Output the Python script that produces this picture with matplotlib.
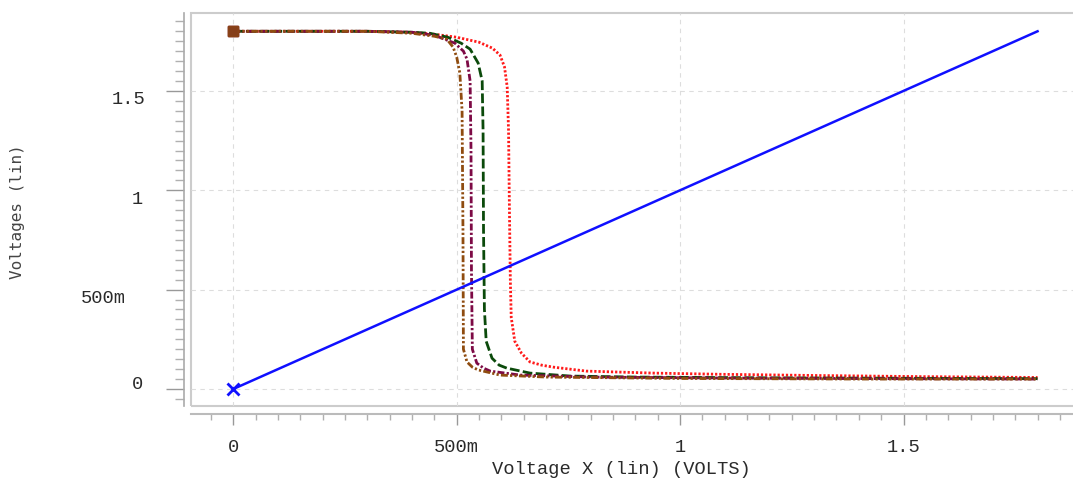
import matplotlib.pyplot as plt
from matplotlib.patches import Rectangle
from matplotlib.ticker import MultipleLocator, FixedLocator
from matplotlib.transforms import blended_transform_factory, ScaledTranslation

# input ramp (blue) and the four inverter transfer curves, in volts
ramp_x = [0.0, 1.8]
ramp_y = [0.0, 1.8]

red_x = [0.0, 0.30, 0.40, 0.45, 0.50, 0.55, 0.58, 0.597, 0.607, 0.613, 0.616, 0.618, 0.620,
         0.622, 0.630, 0.645, 0.664, 0.690, 0.716, 0.790, 0.940, 1.09, 1.30, 1.55, 1.80]
red_y = [1.80, 1.80, 1.795, 1.785, 1.77, 1.745, 1.715, 1.68, 1.62, 1.52, 1.30, 0.90, 0.55,
         0.36, 0.24, 0.18, 0.136, 0.12, 0.11, 0.09, 0.08, 0.074, 0.068, 0.062, 0.058]

green_x = [0.0, 0.30, 0.40, 0.44, 0.48, 0.51, 0.53, 0.548, 0.557, 0.559, 0.560, 0.562, 0.566,
           0.579, 0.595, 0.612, 0.664, 0.754, 0.90, 1.20, 1.50, 1.80]
green_y = [1.80, 1.80, 1.795, 1.79, 1.77, 1.74, 1.71, 1.64, 1.55, 1.30, 0.80, 0.40, 0.24,
           0.155, 0.12, 0.105, 0.08, 0.065, 0.06, 0.056, 0.054, 0.052]

purple_x = [0.0, 0.30, 0.40, 0.45, 0.496, 0.515, 0.523, 0.530, 0.532, 0.533, 0.535,
            0.545, 0.560, 0.575, 0.642, 0.80, 1.10, 1.45, 1.80]
purple_y = [1.80, 1.80, 1.795, 1.78, 1.74, 1.70, 1.66, 1.55, 1.20, 0.60, 0.20,
            0.13, 0.105, 0.09, 0.07, 0.06, 0.055, 0.052, 0.05]

brown_x = [0.0, 0.30, 0.40, 0.45, 0.478, 0.492, 0.500, 0.507, 0.512, 0.514, 0.515,
           0.523, 0.535, 0.548, 0.597, 0.70, 1.00, 1.40, 1.80]
brown_y = [1.80, 1.80, 1.79, 1.775, 1.76, 1.72, 1.67, 1.59, 1.40, 0.80, 0.20,
           0.136, 0.11, 0.096, 0.07, 0.06, 0.053, 0.05, 0.05]

xtick_vals = [0.0, 0.5, 1.0, 1.5]
xtick_labels = ['0', '500m', '1', '1.5']
ytick_vals = [0.0, 0.5, 1.0, 1.5]
ytick_labels = ['0', '500m', '1', '1.5']

mono = 'Liberation Mono'
text_col = '#2a2a2a'
fs = 13.5

fig = plt.figure(figsize=(10.73, 4.84), dpi=100)
ax = fig.add_axes([191 / 1073, 1 - 406 / 484, 889 / 1073, 393 / 484])
ax.set_xlim(-0.0947, 1.895)
ax.set_ylim(-0.0856, 1.892)

# curves
lw = 2.0
ax.plot(red_x, red_y, color='#ff1a1a', lw=lw, ls=(0, (0.8, 0.7)))
ax.plot(green_x, green_y, color='#0b4a0b', lw=lw, ls=(0, (3.5, 1.2)))
ax.plot(purple_x, purple_y, color='#7d0a45', lw=lw, ls=(0, (2.5, 0.8, 0.8, 0.8)))
ax.plot(brown_x, brown_y, color='#8f4c10', lw=lw, ls=(0, (2.5, 0.8, 0.8, 0.8, 0.8, 0.8)))
for xs, ys, c in [(red_x, red_y, '#ff1a1a'), (green_x, green_y, '#0b4a0b'),
                  (purple_x, purple_y, '#7d0a45'), (brown_x, brown_y, '#8f4c10')]:
    ax.plot(xs[0], ys[0], marker='s', ms=7.5, mfc=c, mec=c, alpha=0.75)
ax.plot(ramp_x, ramp_y, color='#1010ff', lw=1.8)
ax.plot(ramp_x[0], ramp_y[0], marker='x', ms=9, mew=2, color='#1010ff')

# frame around the plot area
ax.add_patch(Rectangle((0, 0), 1.2, 1, transform=ax.transAxes, fill=False,
                       ec='#cccccc', lw=1.5, clip_on=False, zorder=0))

for s in ['top', 'right']:
    ax.spines[s].set_visible(False)
ax.spines['left'].set_position(('outward', 5))
ax.spines['bottom'].set_position(('outward', 6))
ax.spines['left'].set_color('#aaaaaa')
ax.spines['bottom'].set_color('#bbbbbb')
ax.spines['left'].set_linewidth(1.2)
ax.spines['bottom'].set_linewidth(1.5)

ax.xaxis.set_major_locator(FixedLocator(xtick_vals))
ax.yaxis.set_major_locator(FixedLocator(ytick_vals))
ax.xaxis.set_minor_locator(MultipleLocator(0.05))
ax.yaxis.set_minor_locator(MultipleLocator(0.05))
ax.set_xticklabels(xtick_labels, fontfamily=mono, fontsize=fs, color=text_col)
ax.tick_params(axis='x', which='major', length=8, width=1, color='#999999', pad=10)
ax.tick_params(axis='x', which='minor', length=4.5, width=1, color='#b0b0b0')
ax.tick_params(axis='y', which='major', length=13, width=1, color='#999999', labelleft=False)
ax.tick_params(axis='y', which='minor', length=6.5, width=1, color='#b0b0b0')

ax.grid(True, which='major', color='#dddddd', lw=0.8, ls=(0, (4, 4)))
ax.set_axisbelow(True)

# y labels sit a little below their ticks in the original
ylab_right_px = [143, 126, 143, 145]
ylab_dy_px = [4, -9, -9, -9]
for v, lab, xr, dy in zip(ytick_vals, ytick_labels, ylab_right_px, ylab_dy_px):
    tr = blended_transform_factory(fig.transFigure, ax.transData) + \
        ScaledTranslation(0, dy / 100, fig.dpi_scale_trans)
    ax.text(xr / 1073, v, lab, transform=tr, ha='right', va='center',
            fontfamily=mono, fontsize=fs, color=text_col)

fig.text(621 / 1073, 1 - 470 / 484, 'Voltage X (lin) (VOLTS)', ha='center', va='center',
         fontfamily=mono, fontsize=fs, color=text_col)
fig.text(18 / 1073, 1 - 212 / 484, 'Voltages (lin)', rotation=90, ha='center', va='center',
         fontfamily='DejaVu Sans Mono', fontsize=11.5, color='#444444')

fig.savefig('out.png', dpi=100)
